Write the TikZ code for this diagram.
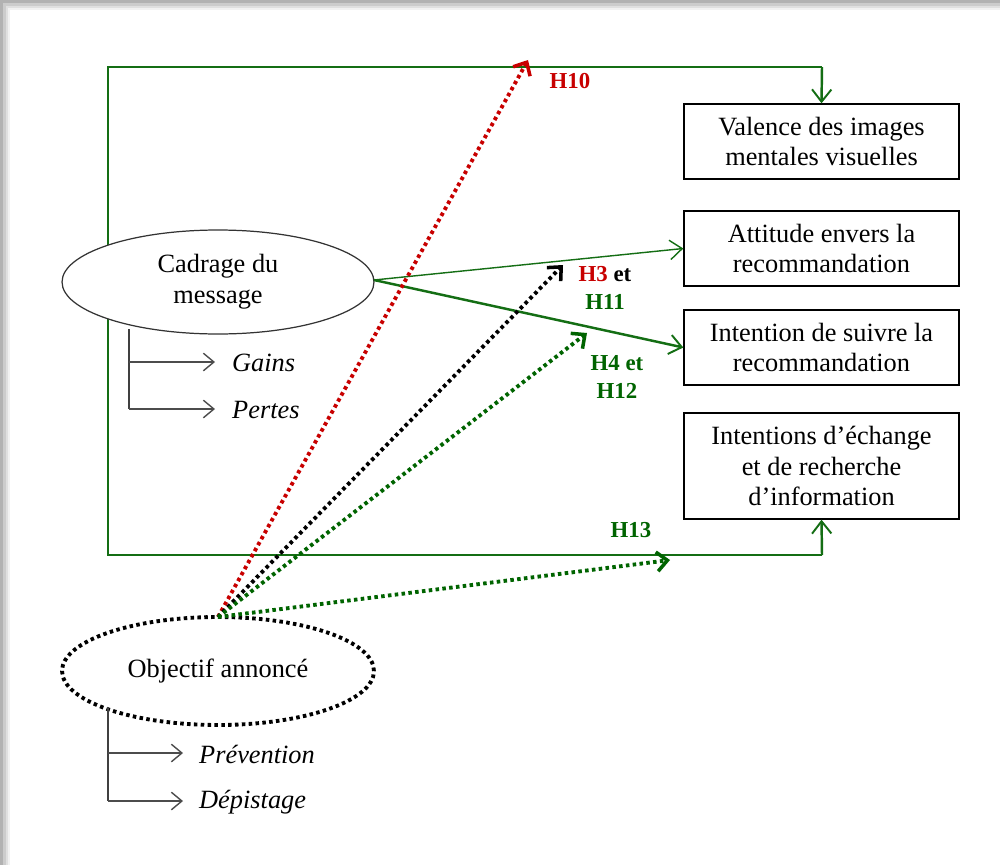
\documentclass[tikz,border=0pt]{standalone}
\usepackage{fontspec}
\setmainfont{Liberation Serif}
\usetikzlibrary{arrows.meta,shapes.geometric}
\definecolor{dgreen}{RGB}{20,110,20}
\definecolor{lgreen}{RGB}{0,100,0}
\definecolor{dred}{RGB}{200,0,0}
\begin{document}
\begin{tikzpicture}[x=0.02cm,y=-0.02cm,
  box/.style={draw,line width=0.8pt,fill=white,minimum width=5.5cm,minimum height=1.5cm,align=center,inner sep=2pt,font=\fontsize{15}{17.5}\selectfont},
  ell/.style={ellipse,draw,fill=white,minimum width=6.24cm,minimum height=2.08cm,align=center,font=\fontsize{15}{17.5}\selectfont,inner sep=0pt},
  garrow/.style={draw=dgreen,line width=1.4pt,-{Straight Barb[length=7pt,width=11pt,line width=1.1pt]}},
  thinarrow/.style={draw=dgreen,line width=0.8pt,-{Straight Barb[length=7pt,width=11pt,line width=0.8pt]}},
  brarrow/.style={draw=black!70,line width=0.9pt,-{Straight Barb[length=6pt,width=10pt,line width=0.8pt]}},
  dotpat/.style={line width=2.2pt,dash pattern=on 2pt off 1.9pt},
  dotarr/.style={dotpat,-{Straight Barb[length=6pt,width=11pt,line width=2pt]}},
  hlab/.style={font=\fontsize{13}{16}\selectfont\bfseries,align=center},
  itl/.style={font=\fontsize{15}{17}\selectfont\itshape,anchor=west}
]
% frame with shadow
\fill[black!30] (0,0) rectangle (1000,865);
\fill[black!20] (3,3) rectangle (1000,865);
\fill[black!12] (6,6) rectangle (1000,865);
\fill[black!5] (8,8) rectangle (1000,865);
\fill[white] (10,10) rectangle (1000,865);
\useasboundingbox (0,0) rectangle (1000,865);

% boxes
\node[box] (b1) at (821.5,141.5) {Valence des images\\mentales visuelles};
\node[box] (b2) at (821.5,248.5) {Attitude envers la\\recommandation};
\node[box] (b3) at (821.5,347.5) {Intention de suivre la\\recommandation};
\node[box,minimum height=2.12cm] (b4) at (821.5,466) {Intentions d’échange\\et de recherche\\d’information};

% green loop
\coordinate (tl) at (108,67);
\coordinate (tr) at (822,67);
\coordinate (bl) at (108,555);
\coordinate (br) at (822,555);
\draw[dgreen,line width=1.4pt] (br) -- (bl) -- (tl) -- (tr);
\draw[garrow] (tr) -- (b1.north);
\draw[garrow] (br) -- (b4.south);

% ellipses
\node[ell,line width=0.7pt,draw=black!80] (cad) at (218,282) {Cadrage du\\message};
\node[ell,minimum height=2.16cm,dotpat] (obj) at (218,671) {Objectif annoncé};

% branches of Cadrage
\coordinate (cb) at (129,329);
\coordinate (cg) at (129,362);
\coordinate (cp) at (129,409);
\coordinate (ga) at (215,362);
\coordinate (pa) at (215,409);
\draw[black!75,line width=0.9pt] (cb) -- (cp);
\draw[brarrow] (cg) -- (ga);
\draw[brarrow] (cp) -- (pa);
\node[itl] (gains) at (226,363) {Gains};
\node[itl] (pertes) at (226,410) {Pertes};

% branches of Objectif
\coordinate (ob) at (108,707);
\coordinate (op) at (108,753);
\coordinate (od) at (108,801);
\coordinate (pra) at (183,753);
\coordinate (dea) at (183,801);
\draw[black!75,line width=0.9pt] (ob) -- (od);
\draw[brarrow] (op) -- (pra);
\draw[brarrow] (od) -- (dea);
\node[itl] (prev) at (193,754) {Prévention};
\node[itl] (dep) at (193,802) {Dépistage};

% arrows from Cadrage
\coordinate (ce) at (374,280);
\draw[thinarrow] (ce) -- (b2.west);
\draw[garrow] (ce) -- (b3.west);

% dotted arrows from Objectif
\coordinate (o) at (218,617);
\coordinate (e10) at (528,60);
\coordinate (e3) at (563,265);
\coordinate (e4) at (587,333);
\coordinate (e13) at (670,560);
\draw[dotarr,dred] (o) -- (e10);
\draw[dotarr,black] (o) -- (e3);
\draw[dotarr,lgreen] (o) -- (e4);
\draw[dotarr,lgreen] (o) -- (e13);

% labels
\node[hlab,text=dred] (h10) at (570,81) {H10};
\node[hlab] (h3) at (605,288) {\textcolor{dred}{H3} et\\\textcolor{lgreen}{H11}};
\node[hlab,text=lgreen] (h4) at (617,377) {H4 et\\H12};
\node[hlab,text=lgreen] (h13) at (631,530) {H13};
\end{tikzpicture}
\end{document}
